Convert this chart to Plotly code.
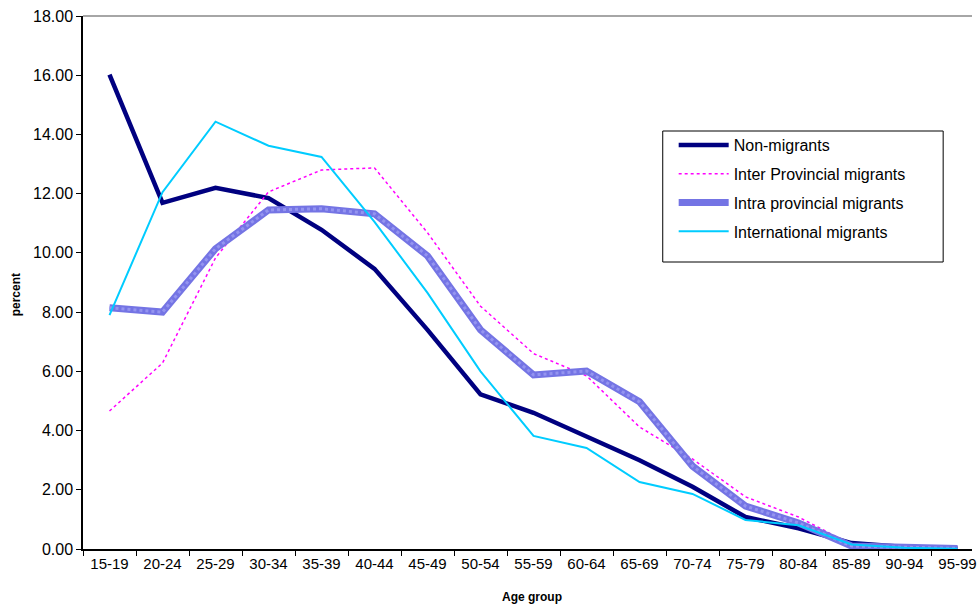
import plotly.graph_objects as go

age_groups = ["15-19", "20-24", "25-29", "30-34", "35-39", "40-44", "45-49", "50-54",
              "55-59", "60-64", "65-69", "70-74", "75-79", "80-84", "85-89", "90-94", "95-99"]

non_migrants = [16.02, 11.69, 12.20, 11.85, 10.78, 9.46, 7.40, 5.22, 4.60, 3.78, 3.00,
                2.10, 1.08, 0.70, 0.20, 0.07, 0.02]
inter_provincial = [4.66, 6.28, 9.83, 12.06, 12.80, 12.87, 10.68, 8.20, 6.60, 5.85, 4.12,
                    3.04, 1.76, 1.08, 0.15, 0.05, 0.02]
intra_provincial = [8.15, 8.00, 10.14, 11.45, 11.49, 11.32, 9.90, 7.40, 5.88, 6.01, 4.97,
                    2.80, 1.45, 0.88, 0.10, 0.05, 0.02]
international = [7.90, 12.05, 14.43, 13.62, 13.24, 11.05, 8.65, 6.00, 3.82, 3.41, 2.26,
                 1.86, 0.98, 0.80, 0.15, 0.04, 0.01]

y_ticks = [0, 2, 4, 6, 8, 10, 12, 14, 16, 18]

W, H = 977, 605
L, R, T, B = 83, 0, 16, 56
PW, PH = W - L - R, H - T - B


def px(x):
    return (x - L) / PW


def py(y):
    return (H - B - y) / PH


fig = go.Figure()
fig.add_trace(go.Scatter(x=age_groups, y=non_migrants, mode="lines", name="Non-migrants",
                         legendgroup="a",
                         line=dict(color="#000080", width=4.5)))
fig.add_trace(go.Scatter(x=age_groups, y=inter_provincial, mode="lines",
                         name="Inter Provincial migrants", legendgroup="b",
                         line=dict(color="#ff00ff", width=1.5, dash="dot")))
fig.add_trace(go.Scatter(x=age_groups, y=intra_provincial, mode="lines",
                         name="Intra provincial migrants", legendgroup="c",
                         line=dict(color="#7474e4", width=7)))
fig.add_trace(go.Scatter(x=age_groups, y=intra_provincial, mode="lines",
                         showlegend=False, hoverinfo="skip", legendgroup="c",
                         line=dict(color="#9494f0", width=3, dash="dot")))
fig.add_trace(go.Scatter(x=age_groups, y=international, mode="lines",
                         name="International migrants", legendgroup="d",
                         line=dict(color="#00ccff", width=2)))

font = "Liberation Sans, Arial, sans-serif"
fig.update_layout(
    width=W, height=H,
    margin=dict(l=L, r=R, t=T, b=B),
    paper_bgcolor="white", plot_bgcolor="white",
    font=dict(family=font, size=15, color="black"),
    showlegend=True,
    legend=dict(x=px(677), y=py(128), xanchor="left", yanchor="top",
                borderwidth=0, bgcolor="rgba(0,0,0,0)",
                font=dict(size=16, family=font), tracegroupgap=5,
                itemwidth=50),
    xaxis=dict(type="category", range=[-0.5, -0.5 + PW / 53.3],
               tickson="boundaries", ticks="outside", ticklen=5, tickcolor="black",
               showline=True, linecolor="black", linewidth=1.5, showgrid=False,
               tickfont=dict(size=15, family=font)),
    yaxis=dict(range=[0, 18], tickvals=y_ticks, ticktext=[f"{v:.2f}" for v in y_ticks],
               ticks="outside", ticklen=5, tickcolor="black",
               showline=True, linecolor="black", linewidth=1.5, showgrid=False,
               zeroline=False, tickfont=dict(size=16, family=font)),
    shapes=[
        dict(type="line", xref="paper", yref="paper", x0=0, x1=1, y0=1, y1=1,
             line=dict(color="#888888", width=1.5)),
        dict(type="rect", xref="paper", yref="paper", x0=px(666), x1=px(948),
             y0=py(262), y1=py(131), fillcolor="white", layer="below",
             line=dict(color="black", width=1)),
    ],
    annotations=[
        dict(text="<b>Age group</b>", xref="paper", yref="paper",
             x=px(535), y=py(597), yanchor="middle",
             showarrow=False, font=dict(size=12, family=font)),
        dict(text="<b>percent</b>", xref="paper", yref="paper",
             x=px(16), y=py(295), xanchor="center", yanchor="middle",
             textangle=-90, showarrow=False, font=dict(size=12, family=font)),
    ],
)

fig.write_html("out.html", config={"displayModeBar": False},
               post_script="document.body.style.margin='0';document.body.style.overflow='hidden';")
